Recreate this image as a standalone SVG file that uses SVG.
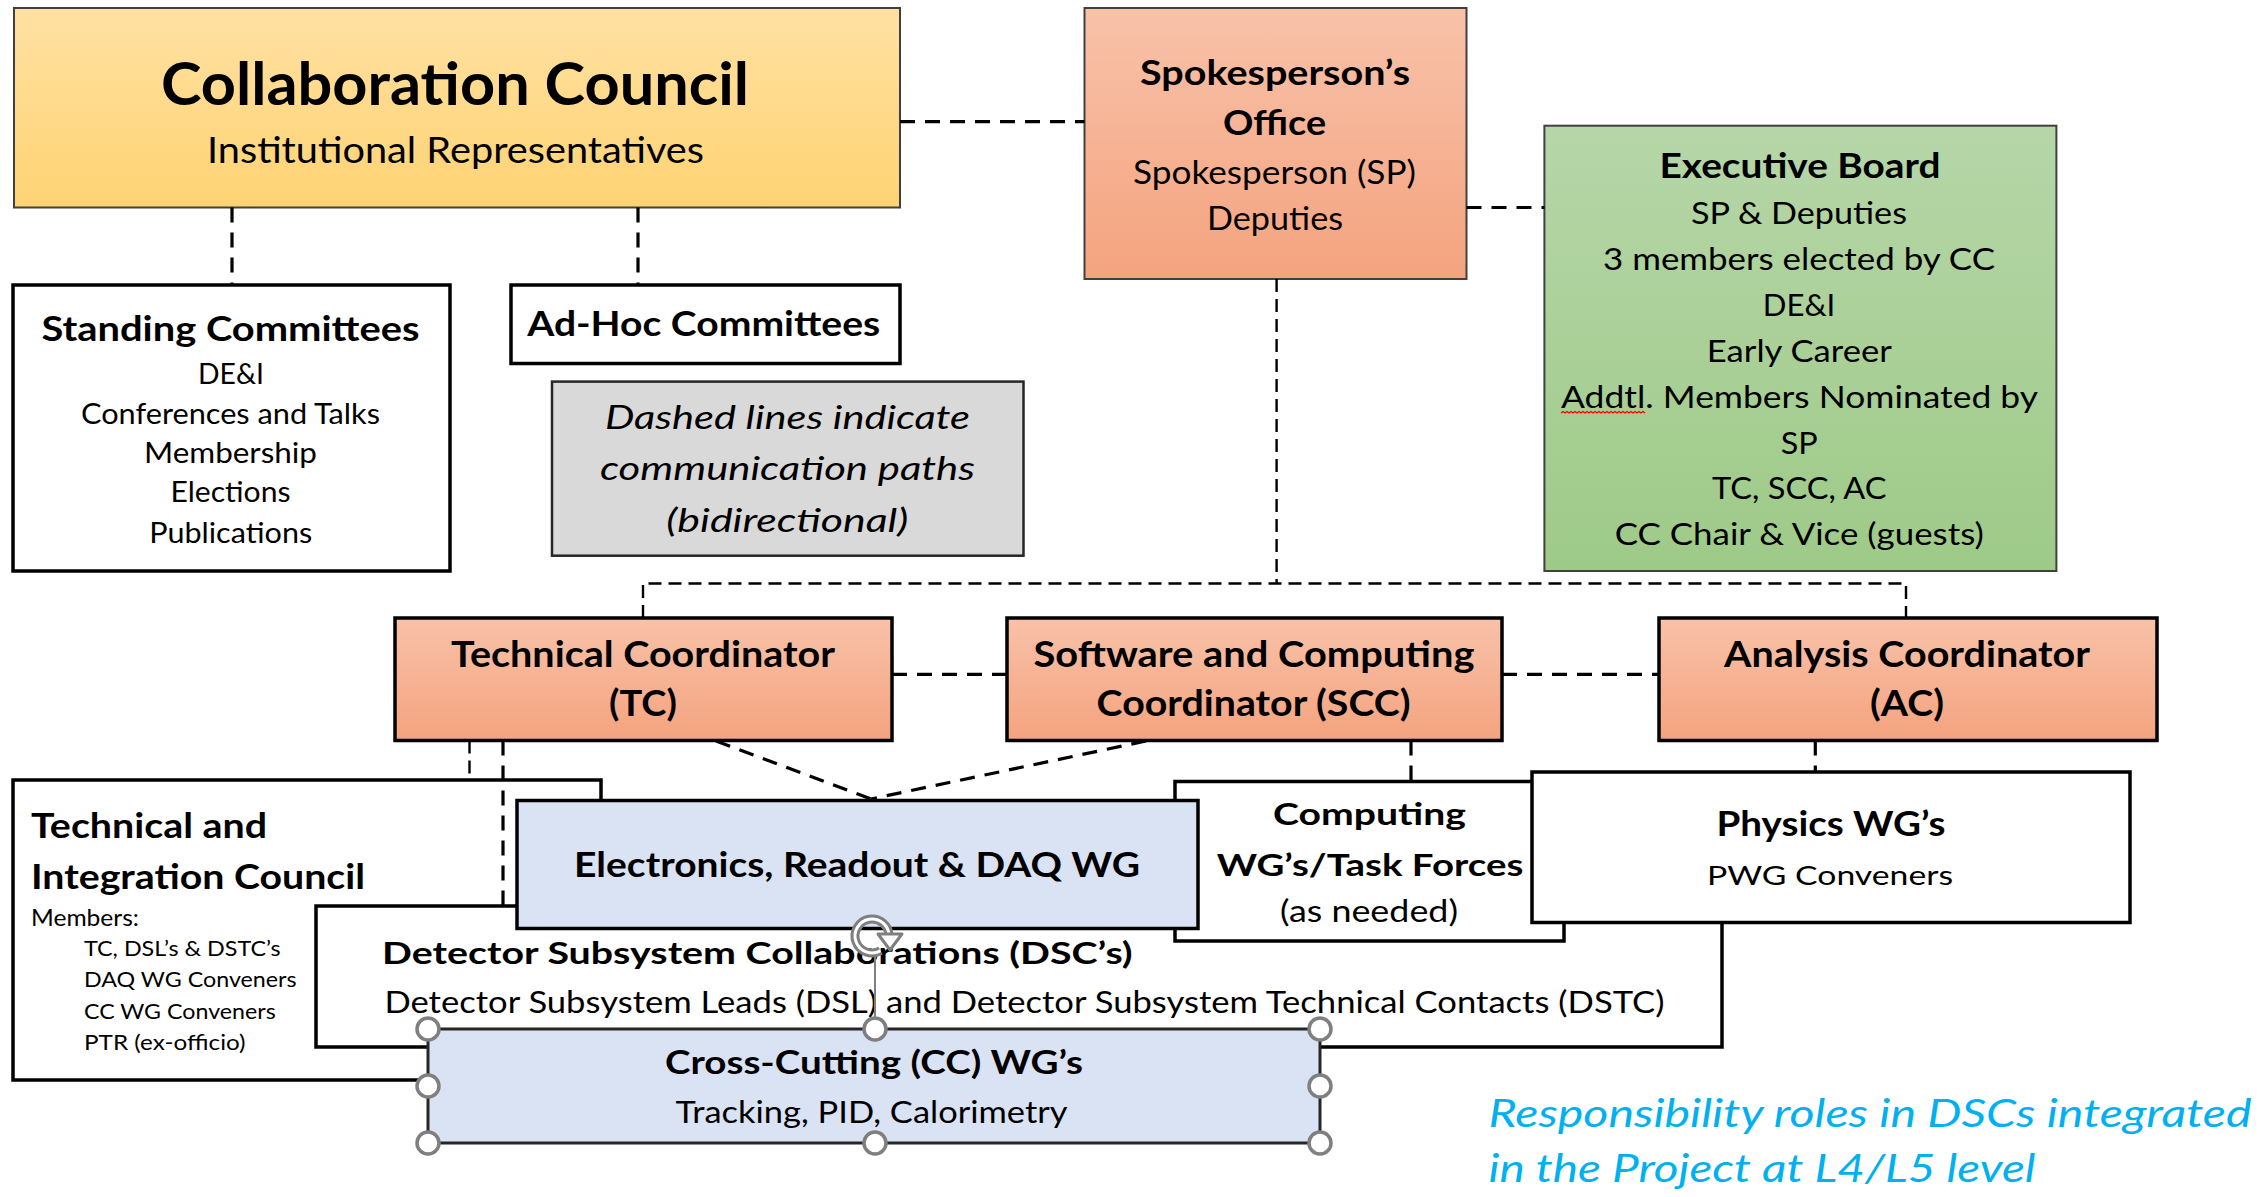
<svg xmlns="http://www.w3.org/2000/svg" width="2260" height="1197" viewBox="0 0 2260 1197">
<defs>
<linearGradient id="gGold" x1="0" y1="0" x2="0" y2="1"><stop offset="0" stop-color="#FFE1A3"/><stop offset="1" stop-color="#FFD373"/></linearGradient>
<linearGradient id="gOrange" x1="0" y1="0" x2="0" y2="1"><stop offset="0" stop-color="#F8C2A9"/><stop offset="1" stop-color="#F4A37F"/></linearGradient>
<linearGradient id="gGreen" x1="0" y1="0" x2="0" y2="1"><stop offset="0" stop-color="#B6D6A8"/><stop offset="1" stop-color="#9ECA88"/></linearGradient>
<style>
text{font-family:Lato,"Liberation Sans",sans-serif;fill:#000}
.m{text-anchor:middle}
.b{font-weight:bold}
.i{font-style:italic}
.thin{stroke:#404040;stroke-width:2}
.thick{stroke:#000;stroke-width:3.5}
.white{fill:#fff}
.blue{fill:#DAE3F3}
.dash{fill:none;stroke:#000;stroke-width:3.2;stroke-dasharray:15 10}
.dashs{fill:none;stroke:#000;stroke-width:2.4;stroke-dasharray:13 7}
.handle{fill:#fff;stroke:#7F7F7F;stroke-width:3.5}
.note{fill:#00B0F0}
</style>
</defs>
<rect width="2260" height="1197" fill="#fff"/>

<g id="collaboration-council">
<rect x="14" y="8" width="886" height="199.5" fill="url(#gGold)" class="thin"/>
<text class="m b" x="455" y="105" font-size="59" textLength="588" lengthAdjust="spacingAndGlyphs">Collaboration Council</text>
<text class="m" x="455.5" y="162.6" font-size="37.5" textLength="497" lengthAdjust="spacingAndGlyphs">Institutional Representatives</text>
</g>

<g id="spokespersons-office">
<rect x="1084.5" y="8" width="382" height="271" fill="url(#gOrange)" class="thin"/>
<text class="m b" x="1275" y="85" font-size="34.5" textLength="270" lengthAdjust="spacingAndGlyphs">Spokesperson’s</text>
<text class="m b" x="1274.5" y="134.7" font-size="34.5" textLength="103" lengthAdjust="spacingAndGlyphs">Office</text>
<text class="m" x="1274.5" y="183.7" font-size="32" textLength="283" lengthAdjust="spacingAndGlyphs">Spokesperson (SP)</text>
<text class="m" x="1275" y="229.6" font-size="32" textLength="136" lengthAdjust="spacingAndGlyphs">Deputies</text>
</g>

<g id="executive-board">
<rect x="1544.4" y="125.7" width="512" height="445.3" fill="url(#gGreen)" class="thin"/>
<text class="m b" x="1800" y="178" font-size="34.5" textLength="281" lengthAdjust="spacingAndGlyphs">Executive Board</text>
<text class="m" x="1799" y="224" font-size="31" textLength="216" lengthAdjust="spacingAndGlyphs">SP &amp; Deputies</text>
<text class="m" x="1799" y="270" font-size="31" textLength="392" lengthAdjust="spacingAndGlyphs">3 members elected by CC</text>
<text class="m" x="1799" y="315.7" font-size="31" textLength="72.5" lengthAdjust="spacingAndGlyphs">DE&amp;I</text>
<text class="m" x="1799.3" y="361.7" font-size="31" textLength="185" lengthAdjust="spacingAndGlyphs">Early Career</text>
<text class="m" x="1799.5" y="407.6" font-size="31" textLength="477" lengthAdjust="spacingAndGlyphs">Addtl. Members Nominated by</text>
<path d="M1561 413 l2 -1.5 l2 1.5 l2 -1.5 l2 1.5 l2 -1.5 l2 1.5 l2 -1.5 l2 1.5 l2 -1.5 l2 1.5 l2 -1.5 l2 1.5 l2 -1.5 l2 1.5 l2 -1.5 l2 1.5 l2 -1.5 l2 1.5 l2 -1.5 l2 1.5 l2 -1.5 l2 1.5 l2 -1.5 l2 1.5 l2 -1.5 l2 1.5 l2 -1.5 l2 1.5 l2 -1.5 l2 1.5 l2 -1.5 l2 1.5 l2 -1.5 l2 1.5 l2 -1.5 l2 1.5 l2 -1.5 l2 1.5 l2 -1.5 l2 1.5 l2 -1.5 l2 1.5" fill="none" stroke="#FF0000" stroke-width="1.2"/>
<text class="m" x="1799.3" y="453.5" font-size="31" textLength="37" lengthAdjust="spacingAndGlyphs">SP</text>
<text class="m" x="1799.3" y="499.4" font-size="31" textLength="174.5" lengthAdjust="spacingAndGlyphs">TC, SCC, AC</text>
<text class="m" x="1799.3" y="545.3" font-size="31" textLength="369" lengthAdjust="spacingAndGlyphs">CC Chair &amp; Vice (guests)</text>
</g>

<g id="standing-committees">
<rect x="13" y="285" width="437" height="286" class="white thick"/>
<text class="m b" x="230.5" y="340.6" font-size="35" textLength="378" lengthAdjust="spacingAndGlyphs">Standing Committees</text>
<text class="m" x="231" y="384" font-size="28.5" textLength="66" lengthAdjust="spacingAndGlyphs">DE&amp;I</text>
<text class="m" x="230.5" y="424" font-size="28.5" textLength="299" lengthAdjust="spacingAndGlyphs">Conferences and Talks</text>
<text class="m" x="230.5" y="463" font-size="28.5" textLength="173" lengthAdjust="spacingAndGlyphs">Membership</text>
<text class="m" x="230.5" y="502" font-size="28.5" textLength="120" lengthAdjust="spacingAndGlyphs">Elections</text>
<text class="m" x="230.7" y="542.7" font-size="28.5" textLength="163" lengthAdjust="spacingAndGlyphs">Publications</text>
</g>

<g id="ad-hoc-committees">
<rect x="511" y="285" width="389" height="78.5" class="white thick"/>
<text class="m b" x="703.7" y="336" font-size="34" textLength="353" lengthAdjust="spacingAndGlyphs">Ad-Hoc Committees</text>
</g>

<g id="legend-note">
<rect x="552" y="381.6" width="471.5" height="174.1" fill="#D9D9D9" stroke="#262626" stroke-width="2.5"/>
<text class="m i" x="787.5" y="429.4" font-size="33.5" textLength="365" lengthAdjust="spacingAndGlyphs">Dashed lines indicate</text>
<text class="m i" x="787.5" y="480.3" font-size="33.5" textLength="375" lengthAdjust="spacingAndGlyphs">communication paths</text>
<text class="m i" x="787.3" y="532" font-size="33.5" textLength="242" lengthAdjust="spacingAndGlyphs">(bidirectional)</text>
</g>

<g id="technical-coordinator">
<rect x="395" y="618" width="497" height="122.5" fill="url(#gOrange)" class="thick"/>
<text class="m b" x="643" y="666.6" font-size="36" textLength="384" lengthAdjust="spacingAndGlyphs">Technical Coordinator</text>
<text class="m b" x="643" y="716" font-size="36" textLength="68" lengthAdjust="spacingAndGlyphs">(TC)</text>
</g>

<g id="software-computing-coordinator">
<rect x="1007" y="618" width="495" height="122.5" fill="url(#gOrange)" class="thick"/>
<text class="m b" x="1254" y="666.6" font-size="36" textLength="441" lengthAdjust="spacingAndGlyphs">Software and Computing</text>
<text class="m b" x="1253.6" y="716" font-size="36" textLength="314" lengthAdjust="spacingAndGlyphs">Coordinator (SCC)</text>
</g>

<g id="analysis-coordinator">
<rect x="1659" y="618" width="498" height="122.5" fill="url(#gOrange)" class="thick"/>
<text class="m b" x="1907" y="666.6" font-size="36" textLength="366" lengthAdjust="spacingAndGlyphs">Analysis Coordinator</text>
<text class="m b" x="1907" y="716" font-size="36" textLength="74" lengthAdjust="spacingAndGlyphs">(AC)</text>
</g>

<g id="technical-integration-council">
<rect x="13" y="780" width="588" height="300" class="white thick"/>
<text class="b" x="31" y="837.8" font-size="35" textLength="236" lengthAdjust="spacingAndGlyphs">Technical and</text>
<text class="b" x="31" y="889" font-size="35" textLength="334" lengthAdjust="spacingAndGlyphs">Integration Council</text>
<text x="31" y="925.5" font-size="23.5" textLength="108" lengthAdjust="spacingAndGlyphs">Members:</text>
<text x="84" y="955.8" font-size="22" textLength="196.6" lengthAdjust="spacingAndGlyphs">TC, DSL’s &amp; DSTC’s</text>
<text x="84" y="987.3" font-size="22" textLength="212.6" lengthAdjust="spacingAndGlyphs">DAQ WG Conveners</text>
<text x="84" y="1018.8" font-size="22" textLength="191.7" lengthAdjust="spacingAndGlyphs">CC WG Conveners</text>
<text x="84" y="1050.3" font-size="22" textLength="161.5" lengthAdjust="spacingAndGlyphs">PTR (ex-officio)</text>
</g>

<g id="detector-subsystem-collaborations">
<rect x="316" y="906" width="1406" height="141" class="white thick"/>
<text class="b" x="382" y="963.7" font-size="31" textLength="750.6" lengthAdjust="spacingAndGlyphs">Detector Subsystem Collaborations (DSC’s)</text>
<text x="384.4" y="1012.9" font-size="30" textLength="1280" lengthAdjust="spacingAndGlyphs">Detector Subsystem Leads (DSL) and Detector Subsystem Technical Contacts (DSTC)</text>
</g>

<g id="computing-wgs">
<rect x="1175" y="781.5" width="389" height="159.5" class="white thick"/>
<text class="m b" x="1369.5" y="825" font-size="31" textLength="193" lengthAdjust="spacingAndGlyphs">Computing</text>
<text class="m b" x="1370" y="875.7" font-size="31" textLength="306.7" lengthAdjust="spacingAndGlyphs">WG’s/Task Forces</text>
<text class="m" x="1369" y="921.7" font-size="30" textLength="178" lengthAdjust="spacingAndGlyphs">(as needed)</text>
</g>

<g id="physics-wgs">
<rect x="1532" y="772" width="598" height="150.5" class="white thick"/>
<text class="m b" x="1831" y="835.8" font-size="33.5" textLength="229" lengthAdjust="spacingAndGlyphs">Physics WG’s</text>
<text class="m" x="1830" y="885" font-size="27.5" textLength="246" lengthAdjust="spacingAndGlyphs">PWG Conveners</text>
</g>

<g id="electronics-readout-daq-wg">
<rect x="517" y="800.5" width="681" height="128" class="blue thick"/>
<text class="b" x="574" y="877" font-size="33.5" textLength="566" lengthAdjust="spacingAndGlyphs">Electronics, Readout &amp; DAQ WG</text>
</g>

<g id="cross-cutting-wgs">
<rect x="428" y="1029" width="892" height="114" class="blue" stroke="#262626" stroke-width="3"/>
<text class="b" x="665" y="1074" font-size="31.5" textLength="418" lengthAdjust="spacingAndGlyphs">Cross-Cutting (CC) WG’s</text>
<text x="675.6" y="1123" font-size="30" textLength="392" lengthAdjust="spacingAndGlyphs">Tracking, PID, Calorimetry</text>
<line x1="875" y1="956" x2="875" y2="1017" stroke="#7F7F7F" stroke-width="2"/>
<path d="M880.5 950.7 A17 17 0 1 1 889 936" fill="none" stroke="#7F7F7F" stroke-width="9"/>
<path d="M880.5 950.7 A17 17 0 1 1 889 936" fill="none" stroke="#fff" stroke-width="3"/>
<polygon points="878,934 902,934 890,950" fill="#fff" stroke="#7F7F7F" stroke-width="3" stroke-linejoin="round"/>
<circle class="handle" cx="428" cy="1029" r="11"/>
<circle class="handle" cx="875" cy="1029" r="11"/>
<circle class="handle" cx="1320" cy="1029" r="11"/>
<circle class="handle" cx="428" cy="1086" r="11"/>
<circle class="handle" cx="1320" cy="1086" r="11"/>
<circle class="handle" cx="428" cy="1143" r="11"/>
<circle class="handle" cx="875" cy="1143" r="11"/>
<circle class="handle" cx="1320" cy="1143" r="11"/>
</g>

<g id="dsc-note">
<text class="i note" x="1488.6" y="1127" font-size="38.5" style="fill:#00B0F0" textLength="763" lengthAdjust="spacingAndGlyphs">Responsibility roles in DSCs integrated</text>
<text class="i note" x="1488.6" y="1182" font-size="38.5" style="fill:#00B0F0" textLength="547" lengthAdjust="spacingAndGlyphs">in the Project at L4/L5 level</text>
</g>

<g id="connectors">
<path class="dash" d="M900 121.7 H1084.5"/>
<path class="dash" d="M1466.5 207.5 H1544.4"/>
<path class="dash" d="M232 207.5 V285"/>
<path class="dash" d="M638 207.5 V285"/>
<path class="dashs" d="M1276.6 279 V583.5"/>
<path class="dashs" d="M643 618 V583.5 H1906 V618"/>
<path class="dash" d="M892 674.4 H1007"/>
<path class="dash" d="M1502 674.4 H1659"/>
<path class="dashs" d="M469.5 740.5 V780"/>
<path class="dash" d="M503 740.5 V906"/>
<path class="dash" d="M716 741 L871 799"/>
<path class="dash" d="M1146 741 L871 799"/>
<path class="dash" d="M1411 740.5 V781.5"/>
<path class="dash" d="M1815.3 740.5 V772"/>
</g>
</svg>
